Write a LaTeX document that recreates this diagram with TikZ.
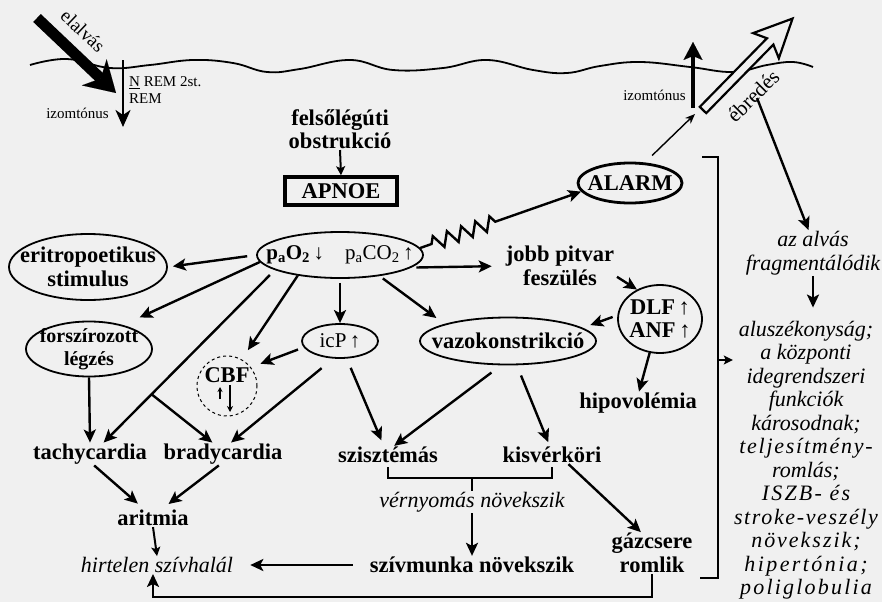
\documentclass[tikz,border=0pt]{standalone}
\usepackage{fontspec}
\setmainfont{Liberation Serif}
\usetikzlibrary{arrows.meta,shapes.geometric,decorations.pathmorphing,calc}
\newcommand\uarr{\,↑}
\newcommand\darr{\,↓}
\newcommand\trk[2]{{\addfontfeature{LetterSpace=#1}#2}}
\tikzset{
  lbl/.style={font=\bfseries\fontsize{22.5}{23.5}\selectfont, align=center, inner sep=1pt},
  itl/.style={font=\itshape\fontsize{22}{23.5}\selectfont, align=center, inner sep=1pt},
  sml/.style={font=\fontsize{15}{16}\selectfont, inner sep=1pt},
  oval/.style={ellipse, draw, line width=1.8pt, inner sep=0pt},
  arr/.style={line width=2.4pt, -{Stealth[length=13pt,width=12pt,inset=3pt]}},
  arrs/.style={line width=2pt, -{Stealth[length=9pt,width=9pt,inset=2pt]}},
  pointer/.style={line width=1.4pt, -{Stealth[length=10pt,width=8pt]}},
  brk/.style={line width=2pt}
}
\begin{document}
\begin{tikzpicture}[x=1pt,y=-1pt]
\fill[black!6] (0,0) rectangle (882,602);
\useasboundingbox (0,0) rectangle (882,602);

% alvas hatara
\draw[line width=1.8pt] plot[smooth, tension=0.7] coordinates {(30,65) (67,59) (110,68) (150,65) (193,60) (233,63) (267,72) (300,69) (350,60) (393,70) (443,68) (487,60) (533,70) (567,73) (600,66) (640,62) (690,67) (733,72) (767,65) (793,62) (813,67)};

% elalvas
\coordinate (sl0) at (37,18); \coordinate (sl1) at (116,93);
\draw[line width=11pt, -{Stealth[length=30pt,width=36pt,inset=9pt,line width=0.01pt]}] (sl0) -- (sl1);
\node[font=\fontsize{19}{20}\selectfont, rotate=-43.5] (elalv) at (83,31) {elalvás};
\coordinate (mt0) at (123,60); \coordinate (mt1) at (123,127);
\draw[line width=2.5pt, -{Stealth[length=17pt,width=15pt,inset=5pt]}] (mt0) -- (mt1);
\node[sml, anchor=west] (nrem) at (128,83) {\underline{N} REM 2st.};
\node[sml, anchor=west] (rem) at (128,99) {REM};
\node[sml, anchor=east] (mtl) at (110,113) {izomtónus};

% ebredes
\coordinate (mu0) at (693,108); \coordinate (mu1) at (693,42);
\draw[line width=4.5pt, -{Stealth[length=18pt,width=19pt,inset=4pt,line width=0.01pt]}] (mu0) -- (mu1);
\node[sml, anchor=east] (mtr) at (687,95) {izomtónus};
\begin{scope}[shift={(703,110)}, rotate=45.6]
\draw[line width=2.2pt, line join=miter, fill=black!6] (0,-4.5) -- (96,-4.5) -- (90,-18) -- (128,0) -- (90,18) -- (96,4.5) -- (0,4.5) -- cycle;
\end{scope}
\node[font=\fontsize{21}{22}\selectfont, rotate=45] (ebr) at (753,96) {ébredés};

% csomopontok
\node[lbl] (obst) at (340,129) {felsőlégúti\\obstrukció};
\node[lbl, draw, line width=3.5pt, minimum width=112pt, minimum height=28pt] (apnoe) at (341,191) {APNOE};
\node[oval, minimum width=166pt, minimum height=46pt, label={[font=\fontsize{21}{22}\selectfont]center:{{\bfseries p\textsubscript{a}O\textsubscript{2}\darr}\quad p\textsubscript{a}CO\textsubscript{2}\uarr}}] (gas) at (340,255) {};
\node[oval, line width=2.8pt, minimum width=104pt, minimum height=40pt, label={[lbl]center:ALARM}] (alarm) at (630,183) {};
\node[oval, minimum width=158pt, minimum height=66pt, label={[lbl]center:{eritropoetikus\\stimulus}}] (erit) at (88,267) {};
\node[oval, minimum width=126pt, minimum height=55pt, label={[lbl, font=\bfseries\fontsize{20}{23}\selectfont]center:{forszírozott\\légzés}}] (forsz) at (89,349) {};
\node[oval, minimum width=76pt, minimum height=34pt, label={[font=\fontsize{21}{22}\selectfont]center:icP\uarr}] (icp) at (340,341) {};
\node[circle, draw, dashed, line width=1pt, minimum size=60pt] (cbf) at (227,386) {};
\node[lbl] (cbft) at ([yshift=11pt]cbf.center) {CBF};
\draw[line width=1.3pt, -{Stealth[length=5pt,width=5pt]}] (cbf.center) ++(-7,13) -- ++(0,-12);
\draw[line width=1.3pt, -{Stealth[length=6pt,width=6pt]}] (cbf.center) ++(3,-1) -- ++(0,27);
\node[oval, minimum width=176pt, minimum height=47pt, label={[lbl]center:vazokonstrikció}] (vazo) at (508,341) {};
\node[lbl] (jobb) at (560,266) {jobb pitvar\\feszülés};
\node[oval, minimum width=84pt, minimum height=68pt, label={[lbl]center:{DLF\uarr\\ANF\uarr}}] (dlf) at (660,319) {};
\node[lbl] (hipo) at (638,403) {hipovolémia};
\node[lbl] (tachy) at (90,454) {tachycardia};
\node[lbl] (brady) at (223,454) {bradycardia};
\node[lbl] (szisz) at (388,455) {szisztémás};
\node[lbl] (kisv) at (552,455) {kisvérköri};
\node[itl] (vernyo) at (472,502) {vérnyomás növekszik};
\node[lbl] (szivm) at (472,565) {szívmunka növekszik};
\node[lbl] (gazcs) at (652,553) {gázcsere\\romlik};
\node[lbl] (aritm) at (153,518) {aritmia};
\node[itl] (hirt) at (157,565) {hirtelen szívhalál};
\node[itl] (alvas) at (813,253) {az alvás\\fragmentálódik};
\node[itl] (alusz) at (806,460) {aluszékonyság;\\a központi\\idegrendszeri\\funkciók\\károsodnak;\\\trk{8}{teljesítmény-}\\romlás;\\\trk{10}{ISZB- és}\\\trk{7.5}{stroke-veszély}\\\trk{9}{növekszik;}\\\trk{11}{hipertónia;}\\\trk{10}{poliglobulia}};

% nyilak
\draw[arrs] (obst.south) -- (apnoe.north);
\draw[arr, shorten <=9pt, shorten >=5pt] (gas.west) -- (erit.east);
\draw[arr, shorten >=18pt] (gas.185) -- (forsz.35);
\draw[arr, shorten <=7pt] (gas.193) -- (tachy.40);
\coordinate (fork) at ($(gas.193)!0.72!(tachy.40)$);
\draw[arr] (fork) -- (brady.133);
\draw[arr, shorten >=11pt] (gas.206) -- (cbf.61);
\draw[arr, shorten <=4pt] (gas.south) -- (icp.north);
\draw[arr, shorten <=6pt, shorten >=10pt] (icp.190) -- (cbf.38);
\draw[arr, shorten <=15pt] (icp.249) -- (brady.55);
\draw[arr, shorten <=10pt, shorten >=6pt] (icp.291) -- (szisz.115);
\draw[arr, shorten <=4pt, shorten >=10pt] (gas.332) -- (vazo.165);
\draw[arr, shorten <=5pt, shorten >=13pt] (gas.350) -- (jobb.west);
\draw[arr, decorate, decoration={zigzag, segment length=15pt, amplitude=7pt, pre length=12pt, post length=90pt}] (gas.5) -- (alarm.190);
\coordinate (wk) at (695,114);
\draw[pointer, shorten <=10pt] (alarm.54) -- (wk);
\draw[arr, shorten <=2pt] (jobb.-10) -- (dlf.128);
\draw[arr, shorten <=5pt, shorten >=8pt] (dlf.175) -- (vazo.10);
\draw[arr] (dlf.253) -- (hipo.85);
\draw[arr, shorten <=12pt] (vazo.254) -- (szisz.56);
\draw[arr, shorten <=11pt, shorten >=4pt] (vazo.290) -- (kisv.104);
\draw[arr] (kisv.-29) -- (gazcs.118);
\draw[arr] (forsz.south) -- (tachy.north);
\draw[arr, shorten >=8pt] (tachy.-70) -- (aritm.135);
\draw[arr, shorten >=8pt] (brady.-110) -- (aritm.45);
\draw[arrs] (aritm.south) -- (hirt.north);
\coordinate (vb) at (472,478);
\draw[brk] ([yshift=-3pt]szisz.south) |- (vb) -| ([yshift=-3pt]kisv.south);
\draw[brk] (vb) -- (vb |- vernyo.north);
\draw[arr] (vernyo) -- (szivm);
\draw[arr, shorten <=16pt, shorten >=16pt] (szivm.west) -- (hirt.east);
\coordinate (lp2) at (153,597);
\draw[arr] (gazcs.south) |- (lp2) -- (lp2 |- hirt.south);
\coordinate (ebs) at (757,98);
\draw[arr] (ebs) -- (alvas.101);
\draw[arr, shorten >=12pt] (alvas.south) -- (alvas.south |- alusz.north);
\draw[brk] (702,157) -| (718,578) -- (700,578);
\coordinate (bk) at (718,360);
\draw[arrs] (bk) -- (bk -| alusz.west);
\end{tikzpicture}
\end{document}
